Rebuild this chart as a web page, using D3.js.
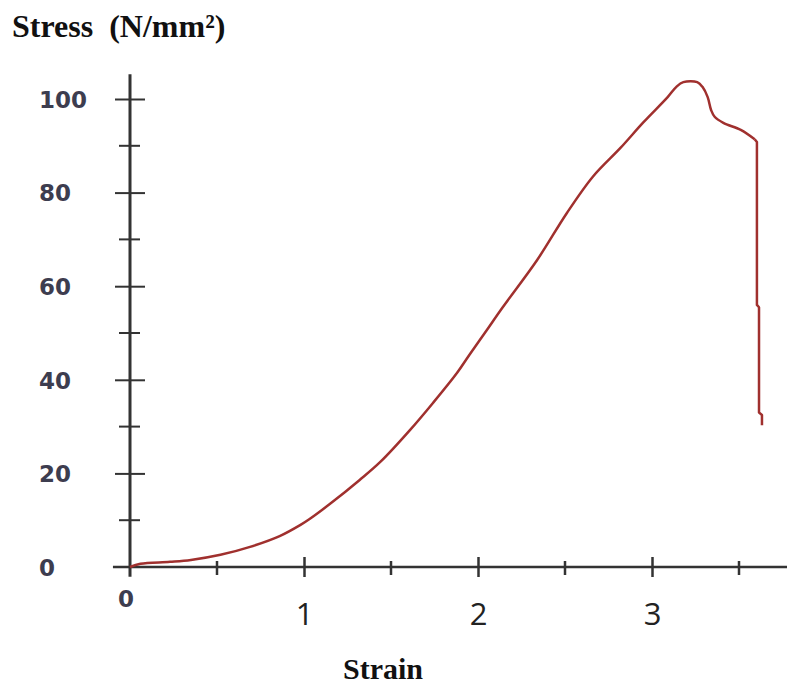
<!DOCTYPE html>
<html>
<head>
	<meta charset="utf-8">
	<title>Stress strain</title>
	<script src="https://d3js.org/d3.v7.min.js"></script>
	<style>
		body { margin:0; background:#fff; }
		svg { display:block; }
		.title { font-family:"Liberation Serif", "Times New Roman", serif; font-weight:bold; font-size:30px; fill:#111; }
		.ylab { font-family:"DejaVu Sans", Verdana, sans-serif; font-weight:bold; font-size:23px; fill:#3d3d4f; }
		.xlab { font-family:"Open Sans", sans-serif; font-size:31px; fill:#222; }
	</style>
</head>
<body>
	<svg></svg>
	<script type="text/javascript">

	// curve
	var strain = [0, 0.06, 0.23, 0.35, 0.52, 0.69, 0.86, 0.98, 1.03, 1.15, 1.32, 1.44, 1.61, 1.74, 1.88, 1.95,
	              2.05, 2.14, 2.34, 2.51, 2.66, 2.82, 2.95, 3.09, 3.14, 3.18, 3.26, 3.29, 3.32, 3.34,
	              3.36, 3.41, 3.51, 3.59, 3.603, 3.603, 3.615, 3.615, 3.632, 3.632];
	var stress = [0, 0.7, 1.1, 1.5, 2.6, 4.3, 6.6, 9.0, 10.2, 13.5, 18.6, 22.5, 29.3, 35.0, 41.5, 45.3,
	              50.6, 55.4, 65.6, 75.6, 83.4, 89.6, 95.0, 100.4, 102.6, 103.6, 103.6, 102.6, 100.4, 97.6,
	              96.2, 94.9, 93.4, 91.4, 90.8, 56.0, 55.5, 33.0, 32.5, 30.3];

	// index where the specimen breaks and the curve drops straight down
	var breakAt = 33;

	var yMajor = [0, 20, 40, 60, 80, 100],
	    yMinor = [10, 30, 50, 70, 90],
	    xMajor = [1, 2, 3],
	    xMinor = [0.5, 1.5, 2.5, 3.5];

	var width = 787, height = 684;

	var x = d3.scaleLinear().domain([0, 3]).range([130, 652]),
	    y = d3.scaleLinear().domain([0, 100]).range([567, 99]);

	var svg = d3.select("svg")
	            .attr("width", width)
	            .attr("height", height);

	/** axis lines **/
	svg.append("line")
	   .attr("x1", x(0)).attr("x2", x(0))
	   .attr("y1", y(-2.1)).attr("y2", y(105.3))
	   .attr("stroke", "#333").attr("stroke-width", 3);

	svg.append("line")
	   .attr("x1", x(-0.098)).attr("x2", x(3.78))
	   .attr("y1", y(0)).attr("y2", y(0))
	   .attr("stroke", "#333").attr("stroke-width", 2.5);

	/** y axis: ticks crossing the line, labels left aligned **/
	var yaxis = d3.axisLeft(y).tickValues(yMajor).tickSize(15).tickSizeOuter(0);
	var gy = svg.append("g")
	   .attr("transform", "translate(" + x(0) + ",0)")
	   .call(yaxis);
	gy.select(".domain").remove();
	gy.selectAll(".tick line")
	   .attr("x1", -15).attr("x2", 15)
	   .attr("stroke", "#333").attr("stroke-width", 2);
	gy.selectAll(".tick text")
	   .attr("class", "ylab")
	   .attr("x", -91)
	   .attr("dy", "0.36em")
	   .attr("font-family", null).attr("font-size", null)
	   .style("text-anchor", "start");
	gy.selectAll(".tick").filter(function(d) { return d === 0; }).select("line").remove();

	svg.selectAll(".yminor")
	   .data(yMinor)
	   .enter().append("line")
	   .attr("x1", x(0) - 11).attr("x2", x(0) + 10)
	   .attr("y1", function(d) { return y(d); })
	   .attr("y2", function(d) { return y(d); })
	   .attr("stroke", "#333").attr("stroke-width", 2);

	/** x axis **/
	var xaxis = d3.axisBottom(x).tickValues(xMajor).tickFormat(d3.format("d")).tickSize(10).tickSizeOuter(0);
	var gx = svg.append("g")
	   .attr("transform", "translate(0," + y(0) + ")")
	   .call(xaxis);
	gx.select(".domain").remove();
	gx.selectAll(".tick line")
	   .attr("y1", -10).attr("y2", 10)
	   .attr("stroke", "#333").attr("stroke-width", 2.5);
	gx.selectAll(".tick text")
	   .attr("class", "xlab")
	   .attr("y", 58).attr("dy", 0)
	   .attr("font-family", null).attr("font-size", null);

	svg.selectAll(".xminor")
	   .data(xMinor)
	   .enter().append("line")
	   .attr("x1", function(d) { return x(d); })
	   .attr("x2", function(d) { return x(d); })
	   .attr("y1", y(0) - 6).attr("y2", y(0) + 8)
	   .attr("stroke", "#333").attr("stroke-width", 2.5);

	// the origin label sits under the corner, same style as the y labels
	svg.append("text")
	   .attr("class", "ylab")
	   .attr("x", x(0) - 4)
	   .attr("y", y(0) + 40)
	   .attr("text-anchor", "middle")
	   .text("0");

	/** curve: smooth up to the break, straight segments after it **/
	var pts = strain.map(function(s, i) { return [s, stress[i]]; });
	var smooth = d3.line()
	   .x(function(d) { return x(d[0]); })
	   .y(function(d) { return y(d[1]); })
	   .curve(d3.curveCatmullRom.alpha(0.5));
	var straight = d3.line()
	   .x(function(d) { return x(d[0]); })
	   .y(function(d) { return y(d[1]); });

	svg.selectAll(".curve")
	   .data([[pts.slice(0, breakAt + 1), smooth], [pts.slice(breakAt), straight]])
	   .enter().append("path")
	   .attr("class", "curve")
	   .attr("d", function(d) { return d[1](d[0]); })
	   .attr("fill", "none")
	   .attr("stroke", "#a0302e")
	   .attr("stroke-width", 2.5)
	   .attr("stroke-linejoin", "round");

	/** titles **/
	svg.append("text")
	   .attr("class", "title")
	   .attr("x", 12).attr("y", 37)
	   .style("font-size", "32px")
	   .style("white-space", "pre")
	   .text("Stress  (N/mm²)");

	svg.append("text")
	   .attr("class", "title")
	   .attr("x", 343).attr("y", 679)
	   .text("Strain");

	</script>
</body>
</html>
